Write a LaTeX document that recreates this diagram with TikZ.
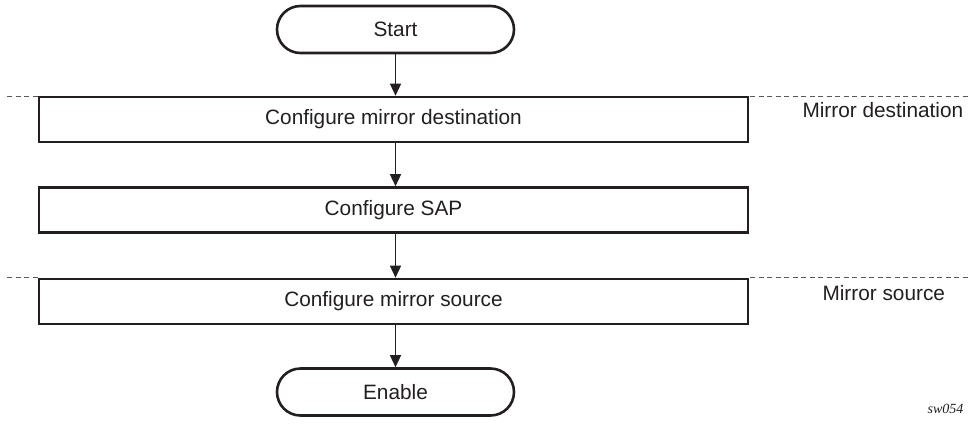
\documentclass[tikz,border=0pt]{standalone}
\usepackage{fontspec}
\setmainfont{Liberation Sans}
\newfontfamily\serifit{Liberation Serif}
\usetikzlibrary{arrows.meta,shapes.misc}
\definecolor{ink}{HTML}{231F20}
\tikzset{
  x=1pt,y=1pt,
  boxtxt/.style={font=\fontsize{20.8}{24}\selectfont, text=ink},
  procbox/.style={draw=ink, line width=2.6pt, fill=white, minimum width=709pt, minimum height=45pt, inner sep=0pt, boxtxt},
  termbox/.style={draw=ink, line width=2.6pt, fill=white, rounded rectangle, minimum width=237pt, minimum height=47pt, inner sep=0pt, boxtxt},
  flow/.style={draw=ink, line width=1.4pt, -{Triangle[length=12pt,width=11pt]}},
  sepline/.style={draw=ink!75, line width=1pt, dash pattern=on 5pt off 3.5pt},
  sidelbl/.style={boxtxt, anchor=west},
}
\begin{document}
\begin{tikzpicture}
\useasboundingbox (0,0) rectangle (968,-423);
% separators
\draw[sepline] (7,-96) -- (38,-96);
\draw[sepline] (750,-96) -- (968,-96);
\draw[sepline] (7,-277) -- (38,-277);
\draw[sepline] (750,-277) -- (968,-277);
% nodes
\node[termbox] (start) at (395.5,-29.5) {Start};
\node[procbox] (dest) at (393.5,-119.5) {Configure mirror destination};
\node[procbox] (sap) at (393.5,-210) {Configure SAP};
\node[procbox] (src) at (393.5,-301.5) {Configure mirror source};
\node[termbox] (enable) at (395.5,-392) {Enable};
% connectors
\draw[flow] (start.south) -- (start.south |- dest.north);
\draw[flow] (dest.south -| start.south) -- (start.south |- sap.north);
\draw[flow] (sap.south -| start.south) -- (start.south |- src.north);
\draw[flow] (src.south -| start.south) -- (enable.north);
% side labels
\node[sidelbl] (lbldest) at (799,-110) {Mirror destination};
\node[sidelbl] (lblsrc) at (819,-293) {Mirror source};
\node[anchor=east, font=\serifit\itshape\fontsize{14}{16}\selectfont, text=ink] (code) at (967,-409) {sw054};
\end{tikzpicture}
\end{document}
